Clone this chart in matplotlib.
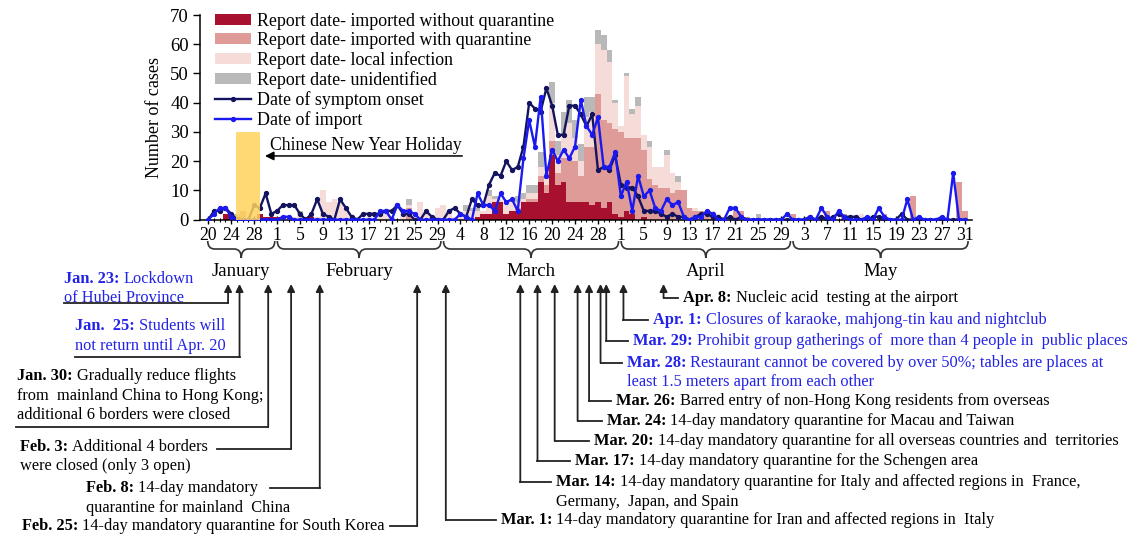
import numpy as np
import pandas as pd
import matplotlib
matplotlib.use('Agg')
import matplotlib.pyplot as plt
from matplotlib.transforms import Affine2D
from matplotlib.patches import FancyArrowPatch, PathPatch
from matplotlib.path import Path
from matplotlib.lines import Line2D

plt.rcParams['font.family'] = ['Liberation Serif', 'DejaVu Serif']

dates = pd.date_range('2020-01-20', '2020-05-31', freq='D')
days = np.arange(len(dates))

# report date - imported without quarantine
imp_no_q = ([0, 0, 0, 2, 2, 1, 0, 0, 0, 2, 1, 1] +
            [1, 0, 0, 0, 0, 1, 1] + [0] * 22 +
            [0, 0, 0, 0, 0, 0, 1, 2, 2, 6, 6, 2, 3, 3, 6, 6, 6, 13, 9, 22,
             12, 13, 6, 6, 6, 6, 5, 6, 4, 6, 2] +
            [1, 3, 2, 0, 1] + [0] * 25 +
            [0] * 31)
# report date - imported with quarantine
imp_q = ([0, 0, 0, 0, 0, 0, 3, 0, 0, 0, 0, 0] +
         [0] * 23 + [4, 0, 0, 0, 0, 0] +
         [0] * 13 + [1, 0, 1, 1, 2, 3, 5, 4, 8, 15, 14, 9, 19, 20, 37, 30, 27, 29] +
         [29, 25, 26, 28, 23, 14, 12, 11, 11, 9, 10, 10, 4, 3, 3, 2, 2, 1, 1, 0,
          3, 3, 1, 0, 0, 0, 0, 0, 0, 0] +
         [2, 0, 0, 0, 0, 0, 3, 1, 0, 2, 1, 0, 0, 0, 0, 0, 2, 0, 0, 0, 0, 8, 1,
          0, 0, 0, 0, 0, 0, 13, 3])
# report date - local infection
local = ([0] * 12 +
         [0, 0, 1, 1, 2, 0, 0, 1, 10, 6, 7, 6, 4, 2, 1, 0, 1, 0, 2, 2, 1, 0, 2,
          1, 2, 6, 2, 1, 4] +
         [5, 3, 1, 1, 3, 3, 2, 1, 6, 1, 1, 4, 3, 2, 1, 2, 2, 3, 2, 13, 6, 8, 12,
          8, 5, 10, 12, 17, 24, 21, 9] +
         [2, 21, 8, 11, 5, 11, 6, 7, 11, 7, 3, 0, 0, 1, 0, 1, 1, 1] + [0] * 12 +
         [0] * 12 + [2] + [0] * 18)
# report date - unidentified
unknown = ([0, 0, 0, 0, 0, 1, 0, 0, 0, 0, 0, 0] +
           [0, 0, 0, 0, 1] + [0] * 18 + [2, 0, 0, 0, 0, 0] +
           [0, 0, 0, 0, 2, 1, 1, 0, 2, 1, 0, 0, 1, 2, 2, 3, 3, 5, 2, 7, 5, 8, 8,
            6, 6, 7, 5, 5, 5, 4, 1] +
           [0, 1, 2, 3, 0, 2, 0, 0, 2, 0, 2] + [0] * 13 + [2] + [0] * 5 +
           [0] * 31)
# date of symptom onset
onset = ([0, 3, 3, 4, 2, 0, 0, 0, 5, 4, 9, 2] +
         [3, 5, 5, 5, 2, 0, 2, 7, 2, 1, 0, 7, 4, 1, 0, 2, 2, 2, 2, 3, 3, 5, 2, 2,
          0, 0, 3, 1, 0] +
         [0, 3, 4, 2, 1, 7, 5, 5, 12, 16, 15, 20, 17, 18, 25, 40, 38, 37, 45, 39,
          29, 29, 39, 39, 36, 32, 36, 17, 18, 17, 22] +
         [12, 11, 11, 8, 3, 3, 3, 2, 1, 2, 1, 1, 0, 1, 2, 2, 1, 1, 0, 1, 0, 1, 0,
          0, 0, 0, 0, 0, 0, 0] +
         [0, 0, 0, 1, 0, 1, 0, 1, 2, 1, 1, 1, 0, 0, 1, 1, 0, 0, 0, 2] + [0] * 11)
# date of import
imported = ([0, 2, 4, 4, 1, 0, 0, 0, 0, 0, 0, 0] +
            [0, 1, 1] + [0] * 15 + [3, 3, 0, 5, 3, 3, 2, 0, 0, 0, 0] +
            [0, 0, 0, 2, 1, 0, 9, 5, 5, 3, 9, 6, 7, 3, 21, 34, 25, 42, 15, 24,
             20, 24, 21, 25, 41, 32, 29, 35, 18, 18, 23] +
            [8, 13, 3, 15, 8, 10, 4, 3, 7, 5, 6, 1, 0, 1, 1, 3, 2, 0, 0, 4, 4, 1,
             0, 0, 0, 0, 0, 0, 0, 2] +
            [0, 0, 0, 1, 0, 4, 1, 0, 3, 1, 0, 0, 0, 1, 0, 4, 1, 0, 0, 0, 7, 0, 1,
             0, 0, 0, 1, 0, 16, 0, 0])

cny_start, cny_end, cny_height = 4.8, 9.0, 30

months = ['January', 'February', 'March', 'April', 'May']

BLUE = '#2323E6'
events = [
    # date, bold part, rest of first line, other lines, colour, text x, text y, line x, line y
    ('2020-01-23', 'Jan. 23:', 'Lockdown', ['of Hubei Province'], BLUE, 64, 279, 64, 303),
    ('2020-01-25', 'Jan.  25:', 'Students will', ['not return until Apr. 20'], BLUE, 75, 326, 75, 357),
    ('2020-01-30', 'Jan. 30:', 'Gradually reduce flights',
     ['from  mainland China to Hong Kong;', 'additional 6 borders were closed'], 'black', 17, 376, 16, 427),
    ('2020-02-03', 'Feb. 3:', 'Additional 4 borders', ['were closed (only 3 open)'], 'black', 20, 447, 217, 449),
    ('2020-02-08', 'Feb. 8:', '14-day mandatory', ['quarantine for mainland  China'], 'black', 86, 488, 270, 488),
    ('2020-02-25', 'Feb. 25:', '14-day mandatory quarantine for South Korea', [], 'black', 22, 526, 390, 526),
    ('2020-03-01', 'Mar. 1:', '14-day mandatory quarantine for Iran and affected regions in  Italy', [],
     'black', 501, 520, 496, 520),
    ('2020-03-14', 'Mar. 14:', '14-day mandatory quarantine for Italy and affected regions in  France,',
     ['Germany,  Japan, and Spain'], 'black', 556, 482, 551, 482),
    ('2020-03-17', 'Mar. 17:', '14-day mandatory quarantine for the Schengen area', [], 'black', 575, 461, 570, 461),
    ('2020-03-20', 'Mar. 20:', '14-day mandatory quarantine for all overseas countries and  territories', [],
     'black', 594, 441, 589, 441),
    ('2020-03-24', 'Mar. 24:', '14-day mandatory quarantine for Macau and Taiwan', [], 'black', 607, 421, 602, 421),
    ('2020-03-26', 'Mar. 26:', 'Barred entry of non-Hong Kong residents from overseas', [], 'black', 616, 401, 611, 401),
    ('2020-03-28', 'Mar. 28:', 'Restaurant cannot be covered by over 50%; tables are places at',
     ['least 1.5 meters apart from each other'], BLUE, 627, 363, 622, 363),
    ('2020-03-29', 'Mar. 29:', 'Prohibit group gatherings of  more than 4 people in  public places', [],
     BLUE, 633, 341, 628, 341),
    ('2020-04-01', 'Apr. 1:', 'Closures of karaoke, mahjong-tin kau and nightclub', [], BLUE, 653, 320, 648, 320),
    ('2020-04-08', 'Apr. 8:', 'Nucleic acid  testing at the airport', [], 'black', 683, 298, 678, 298),
]

W, H = 1129, 540
fig = plt.figure(figsize=(W / 100, H / 100), dpi=100)
ax = fig.add_axes([200 / W, 1 - 219.7 / H, 772 / W, (219.7 - 15) / H])

b1 = np.array(imp_no_q)
b2 = b1 + np.array(imp_q)
b3 = b2 + np.array(local)
h1 = ax.bar(days, imp_no_q, width=1.0, color='#A8102F', label='Report date- imported without quarantine', zorder=2)
h2 = ax.bar(days, imp_q, width=1.0, bottom=b1, color='#DE9B97', label='Report date- imported with quarantine', zorder=2)
h3 = ax.bar(days, local, width=1.0, bottom=b2, color='#F6DCD8', label='Report date- local infection', zorder=2)
h4 = ax.bar(days, unknown, width=1.0, bottom=b3, color='#B9B9B9', label='Report date- unidentified', zorder=2)
h5, = ax.plot(days, onset, '-o', color='#13135F', lw=1.7, ms=2.8, label='Date of symptom onset', zorder=3)
h6, = ax.plot(days, imported, '-o', color='#1A1AF0', lw=1.7, ms=2.8, label='Date of import', zorder=4)

ax.bar(cny_start, cny_height, width=cny_end - cny_start, align='edge', color='#FFD45C',
       alpha=0.85, zorder=5)
ax.annotate('', xy=(cny_end + 0.4, 21.8), xytext=(44.8, 21.8),
            arrowprops=dict(arrowstyle='-|>', color='black', lw=1.1, mutation_scale=13))
ax.text(10.8, 25.3, 'Chinese New Year Holiday', fontsize=12.7, va='center', ha='left')

ax.set_xlim(-1.45, 133.28)
ax.set_ylim(0, 70)
ax.set_yticks(range(0, 71, 10))
ax.set_xticks(days[::4])
ax.set_xticklabels([str(d.day) for d in dates[::4]])
ax.set_xticks(days, minor=True)
ax.tick_params(axis='x', direction='inout', length=6, width=1, pad=2, labelsize=12.7)
ax.tick_params(axis='x', which='minor', direction='inout', length=3, width=0.8)
ax.tick_params(axis='y', direction='out', length=5, width=1, pad=3, labelsize=13.5)
ax.set_ylabel('Number of cases', fontsize=13, labelpad=5)
for s in ['top', 'right']:
    ax.spines[s].set_visible(False)
for s in ['left', 'bottom']:
    ax.spines[s].set_linewidth(1.1)

ax.legend(handles=[h1, h2, h3, h4, h5, h6], loc='upper left', bbox_to_anchor=(215 / W, 1 - 13 / H),
          bbox_transform=fig.transFigure, frameon=False, fontsize=12.9, handlelength=2.0,
          handleheight=0.55, handletextpad=0.35, labelspacing=0.12, borderpad=0, borderaxespad=0)

# pixel coordinates measured from the top-left of the figure
tr = Affine2D().scale(1, -1).translate(0, H)


def px(d):
    return ax.transData.transform((d, 0))[0]


# month braces
month_start = [0] + [i for i in days if dates[i].day == 1] + [len(days)]
for k, name in enumerate(months):
    x0 = px(month_start[k] - 0.1) if k == 0 else px(month_start[k] - 0.3) + 2
    x1 = px(month_start[k + 1] - 0.4)
    xc = (x0 + x1) / 2
    yt, ym, yb, r = 241, 249, 258, 7
    verts = [(x0, yt), (x0, ym), (x0 + r, ym), (xc - r, ym), (xc, ym), (xc, yb),
             (xc, ym), (xc + r, ym), (x1 - r, ym), (x1, ym), (x1, yt)]
    codes = [Path.MOVETO, Path.CURVE3, Path.CURVE3, Path.LINETO, Path.CURVE3, Path.CURVE3,
             Path.CURVE3, Path.CURVE3, Path.LINETO, Path.CURVE3, Path.CURVE3]
    fig.add_artist(PathPatch(Path(verts, codes), transform=tr, fill=False, ec='#333333', lw=1.2))
    fig.text(xc, 272, name, transform=tr, ha='center', va='center', fontsize=13.5)

# policy annotations
renderer = fig.canvas.get_renderer()
tip = 284
fs = 11.75
for date, bold, rest, more, col, tx, ty, cx, cy in events:
    d = (pd.Timestamp(date) - dates[0]).days
    xa = px(d + 0.45)
    t = fig.text(tx, ty, bold, transform=tr, fontsize=fs, fontweight='bold', color=col,
                 va='center', ha='left')
    bb = t.get_window_extent(renderer)
    fig.text(bb.x1 + 4, ty, rest, transform=tr, fontsize=fs, color=col, va='center', ha='left')
    for j, line in enumerate(more):
        fig.text(tx, ty + 19.5 * (j + 1), line, transform=tr, fontsize=fs, color=col,
                 va='center', ha='left')
    fig.add_artist(Line2D([cx, xa], [cy, cy], transform=tr, color='#222222', lw=1.3))
    fig.add_artist(FancyArrowPatch((xa, cy), (xa, tip), transform=tr, arrowstyle='-|>',
                                   mutation_scale=11, color='#222222', lw=1.3,
                                   shrinkA=0, shrinkB=0))

fig.savefig('out.png', dpi=100)
